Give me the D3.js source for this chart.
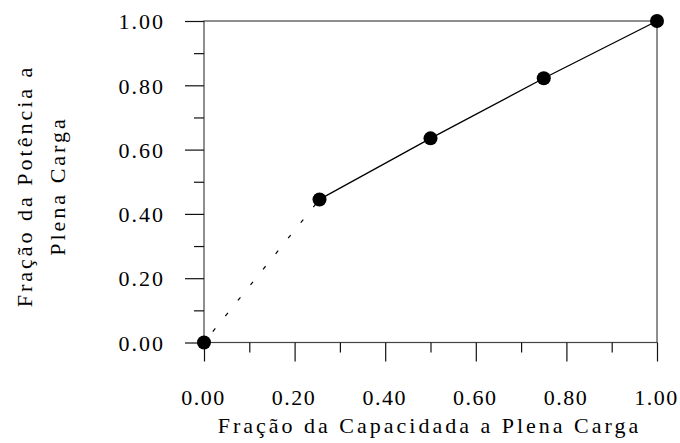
<!DOCTYPE html>
<html>
<head>
<meta charset="utf-8">
<script src="https://cdn.jsdelivr.net/npm/d3@7"></script>
<style>
  body { margin: 0; background: #fff; }
  text { font-family: "Liberation Serif", "Times New Roman", serif; fill: #000; }
</style>
</head>
<body>
<svg id="chart" width="680" height="443"></svg>
<script>
// values
var capacidade = [0, 0.255, 0.5, 0.75, 1.0];
var potencia = [0, 0.445, 0.635, 0.822, 1.0];
var majorTicks = [0, 0.2, 0.4, 0.6, 0.8, 1.0];
var minorTicks = [0.1, 0.3, 0.5, 0.7, 0.9];
var xTitle = "Fração da Capacidada a Plena Carga";
var yTitle = ["Fração da Potência a", "Plena Carga"];

var svg = d3.select("#chart");
var plotLeft = 204, plotRight = 657, plotTop = 21, plotBottom = 342.5;

var x = d3.scaleLinear().domain([0, 1]).range([plotLeft, plotRight]);
var y = d3.scaleLinear().domain([0, 1]).range([plotBottom, plotTop]);

var points = capacidade.map(function(c, i) { return [c, potencia[i]]; });

// frame
svg.append("rect")
    .attr("x", plotLeft).attr("y", plotTop)
    .attr("width", plotRight - plotLeft).attr("height", plotBottom - plotTop)
    .attr("fill", "none").attr("stroke", "#444").attr("stroke-width", 1.2);

// x axis ticks
var xAxis = d3.axisBottom(x).tickValues(majorTicks).tickSize(19).tickFormat(d3.format(".2f"));
var gx = svg.append("g").attr("transform", "translate(0," + plotBottom + ")").call(xAxis);
gx.select(".domain").remove();
gx.selectAll("line").attr("stroke", "#111").attr("stroke-width", 1.2);
gx.selectAll("text").attr("font-size", 22).attr("letter-spacing", "1.5px")
    .attr("x", -1).attr("y", 0).attr("dy", "62px").attr("font-family", "Liberation Serif");

var xMinor = d3.axisBottom(x).tickValues(minorTicks).tickSize(10).tickFormat("");
var gxm = svg.append("g").attr("transform", "translate(0," + plotBottom + ")").call(xMinor);
gxm.select(".domain").remove();
gxm.selectAll("line").attr("stroke", "#111").attr("stroke-width", 1.2);

// y axis ticks
var yAxis = d3.axisLeft(y).tickValues(majorTicks).tickSize(19).tickFormat(d3.format(".2f"));
var gy = svg.append("g").attr("transform", "translate(" + plotLeft + ",0)").call(yAxis);
gy.select(".domain").remove();
gy.selectAll("line").attr("stroke", "#111").attr("stroke-width", 1.2);
gy.selectAll("text").attr("font-size", 22).attr("letter-spacing", "2px")
    .attr("x", -39).attr("dy", "0.35em").attr("font-family", "Liberation Serif");

var yMinor = d3.axisLeft(y).tickValues(minorTicks).tickSize(10).tickFormat("");
var gym = svg.append("g").attr("transform", "translate(" + plotLeft + ",0)").call(yMinor);
gym.select(".domain").remove();
gym.selectAll("line").attr("stroke", "#111").attr("stroke-width", 1.2);

// lines
var line = d3.line().x(function(d) { return x(d[0]); }).y(function(d) { return y(d[1]); });

svg.append("path")
    .attr("d", line(points.slice(0, 2)))
    .attr("fill", "none").attr("stroke", "#000").attr("stroke-width", 1.2)
    .attr("stroke-dasharray", "4,16").attr("stroke-dashoffset", -14);

svg.append("path")
    .attr("d", line(points.slice(1)))
    .attr("fill", "none").attr("stroke", "#000").attr("stroke-width", 1.3);

svg.selectAll("circle.pt").data(points).enter().append("circle")
    .attr("class", "pt")
    .attr("cx", function(d) { return x(d[0]); })
    .attr("cy", function(d) { return y(d[1]); })
    .attr("r", 7)
    .attr("fill", "#000");

// titles
svg.append("text")
    .attr("x", (plotLeft + plotRight) / 2 - 1).attr("y", 433)
    .attr("text-anchor", "middle")
    .attr("font-size", 22).attr("letter-spacing", "3px")
    .text(xTitle);

var yt = svg.append("text")
    .attr("transform", "translate(32,186) rotate(-90)")
    .attr("text-anchor", "middle")
    .attr("font-size", 22).attr("letter-spacing", "3px");
yt.selectAll("tspan").data(yTitle).enter().append("tspan")
    .attr("x", 0)
    .attr("dy", function(d, i) { return i === 0 ? 0 : 33; })
    .text(function(d) { return d; });
</script>
</body>
</html>
